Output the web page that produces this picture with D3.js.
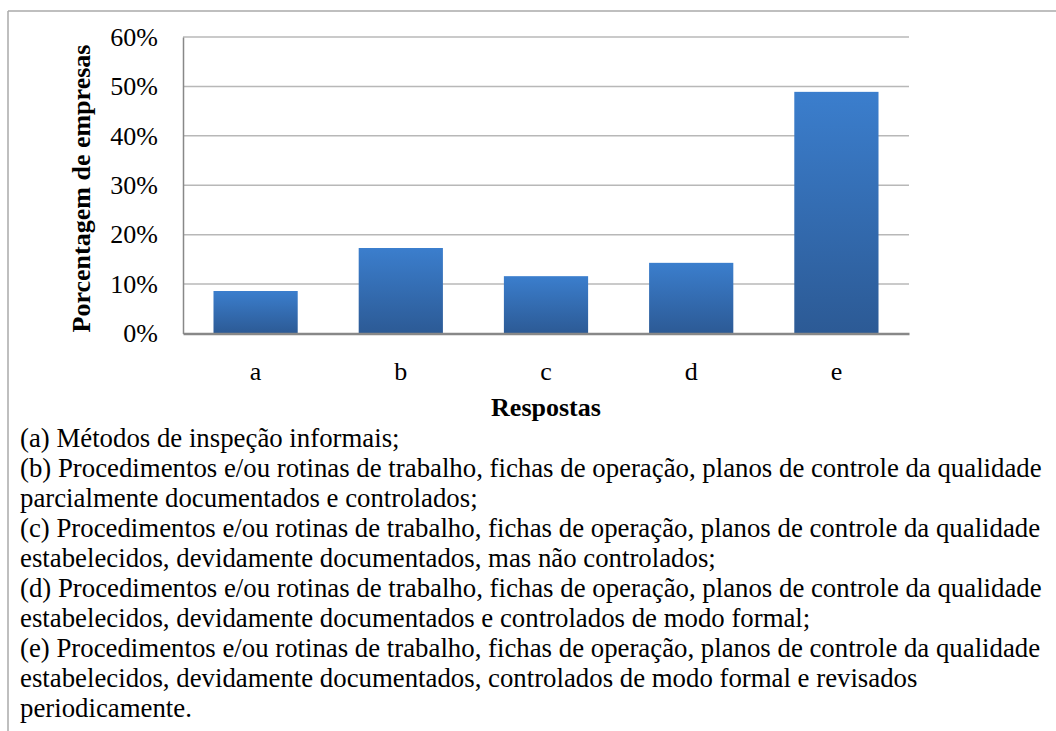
<!DOCTYPE html>
<html>
<head>
<meta charset="utf-8">
<script src="https://cdn.jsdelivr.net/npm/d3@7"></script>
<style>
  body { margin: 0; background: #fff; }
</style>
</head>
<body>
<svg id="chart" width="1056" height="731"></svg>
<script>
// respostas e porcentagens
var categories = ["a", "b", "c", "d", "e"];
var values = [0.086, 0.173, 0.116, 0.143, 0.489];
var yTicks = [0, 0.1, 0.2, 0.3, 0.4, 0.5, 0.6];
var legendLines = [
  "(a) Métodos de inspeção informais;",
  "(b) Procedimentos e/ou rotinas de trabalho, fichas de operação, planos de controle da qualidade",
  "parcialmente documentados e controlados;",
  "(c) Procedimentos e/ou rotinas de trabalho, fichas de operação, planos de controle da qualidade",
  "estabelecidos, devidamente documentados, mas não controlados;",
  "(d) Procedimentos e/ou rotinas de trabalho, fichas de operação, planos de controle da qualidade",
  "estabelecidos, devidamente documentados e controlados de modo formal;",
  "(e) Procedimentos e/ou rotinas de trabalho, fichas de operação, planos de controle da qualidade",
  "estabelecidos, devidamente documentados, controlados de modo formal e revisados",
  "periodicamente."
];

var font = "'Liberation Serif', 'Times New Roman', serif";
var width = 1056, height = 731;
var svg = d3.select("#chart");

// frame (only top and left edges visible)
svg.append("line").attr("x1", 8).attr("x2", width).attr("y1", 11).attr("y2", 11)
  .attr("stroke", "#aaa").attr("stroke-width", 1.5);
svg.append("line").attr("x1", 8).attr("x2", 8).attr("y1", 11).attr("y2", height)
  .attr("stroke", "#aaa").attr("stroke-width", 1.5);

var margin_l = 183, margin_t = 37;
var graph_width = 909 - margin_l,
    graph_height = 333.5 - margin_t;

var g = svg.append("g").attr("transform", "translate(" + margin_l + "," + margin_t + ")");

var x = d3.scaleBand()
    .domain(categories)
    .range([0, graph_width])
    .paddingInner(0.42)
    .paddingOuter(0.21);

var y = d3.scaleLinear()
    .domain([0, 0.6])
    .range([graph_height, 0]);

// gradient for bars
var defs = svg.append("defs");
var grad = defs.append("linearGradient").attr("id", "barGrad")
  .attr("x1", 0).attr("x2", 0).attr("y1", 0).attr("y2", 1);
grad.append("stop").attr("offset", "0%").attr("stop-color", "#3b7ecd");
grad.append("stop").attr("offset", "100%").attr("stop-color", "#2c5a95");

// gridlines
g.append("g")
  .selectAll("line")
  .data(yTicks.slice(1))
  .enter().append("line")
    .attr("x1", 0).attr("x2", graph_width)
    .attr("y1", function(d) { return y(d); })
    .attr("y2", function(d) { return y(d); })
    .attr("stroke", "#b8b8b8").attr("stroke-width", 1.5);

// bars
g.selectAll(".bar")
  .data(values)
  .enter().append("rect")
    .attr("class", "bar")
    .attr("x", function(d, i) { return x(categories[i]); })
    .attr("y", function(d) { return y(d); })
    .attr("width", x.bandwidth())
    .attr("height", function(d) { return graph_height - y(d); })
    .attr("fill", "url(#barGrad)");

// y axis
var yAxis = g.append("g")
  .call(d3.axisLeft(y).tickValues(yTicks).tickFormat(d3.format(".0%")).tickSize(0).tickPadding(25));
yAxis.attr("font-family", font).attr("font-size", 26);
yAxis.select(".domain").attr("stroke", "#888").attr("stroke-width", 1.5);

// x axis
var xAxis = g.append("g")
  .attr("transform", "translate(0," + graph_height + ")")
  .call(d3.axisBottom(x).tickSize(0).tickPadding(28));
xAxis.attr("font-family", font).attr("font-size", 26);
xAxis.select(".domain").attr("stroke", "#888").attr("stroke-width", 2.5);

// x axis title
g.append("text")
  .attr("x", graph_width / 2)
  .attr("y", graph_height + 82)
  .attr("text-anchor", "middle")
  .attr("font-family", font)
  .attr("font-size", 26)
  .attr("font-weight", "bold")
  .text("Respostas");

// y axis title
g.append("text")
  .attr("transform", "rotate(-90)")
  .attr("x", -((42 + 335) / 2 - margin_t))
  .attr("y", -93)
  .attr("text-anchor", "middle")
  .attr("font-family", font)
  .attr("font-size", 26)
  .attr("font-weight", "bold")
  .text("Porcentagem de empresas");

// legend text below chart
svg.append("g")
  .selectAll("text")
  .data(legendLines)
  .enter().append("text")
    .attr("x", 20)
    .attr("y", function(d, i) { return 447 + i * 30; })
    .attr("font-family", font)
    .attr("font-size", 26.8)
    .text(function(d) { return d; });
</script>
</body>
</html>
